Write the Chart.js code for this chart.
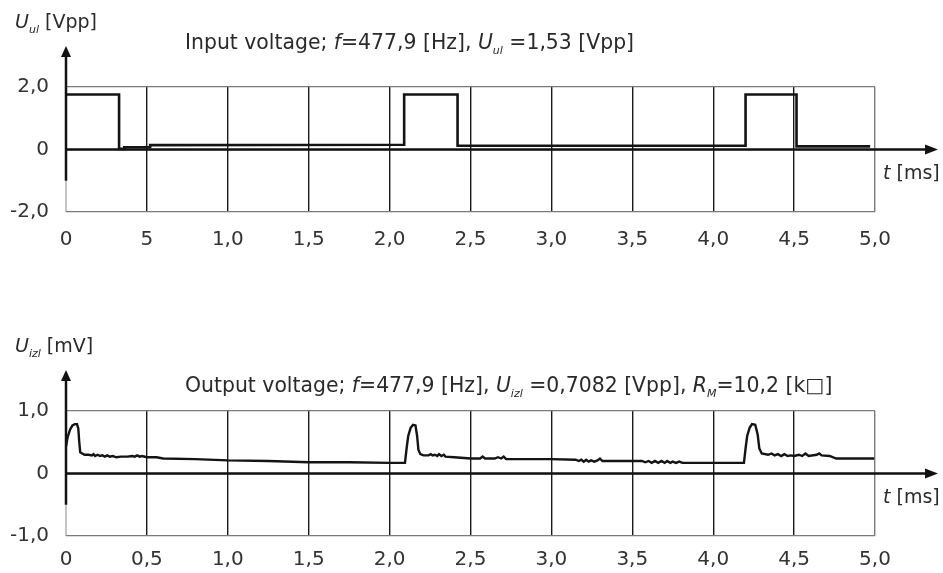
<!DOCTYPE html>
<html>
<head>
<meta charset="utf-8">
<script src="https://cdn.jsdelivr.net/npm/chart.js@4.4.1/dist/chart.umd.min.js"></script>
<style>
  html, body { margin: 0; padding: 0; background: #fff; }
  #page { position: relative; width: 943px; height: 573px; overflow: hidden;
          font-family: "DejaVu Sans", sans-serif; color: #2a2a2a; }
  .box { position: absolute; left: 0; width: 943px; height: 286px; }
  .txt { position: absolute; white-space: nowrap; line-height: 1; font-size: 20.4px; }
  .txt i { font-style: italic; }
  .txt sub { font-size: 11px; font-style: italic; vertical-align: -5px; line-height: 0; }
</style>
</head>
<body>
<div id="page">
  <div class="box" style="top:0"><canvas id="chart-in"></canvas></div>
  <div class="box" style="top:287px"><canvas id="chart-out"></canvas></div>

  <div class="txt" style="left:15px; top:12px; font-size:19px"><i>U</i><sub>ul</sub> [Vpp]</div>
  <div class="txt" style="left:185px; top:32px">Input voltage; <i>f</i>=477,9 [Hz], <i>U</i><sub>ul</sub> =1,53 [Vpp]</div>
  <div class="txt" style="left:883px; top:163px; font-size:19px"><i>t</i> [ms]</div>

  <div class="txt" style="left:15px; top:336px; font-size:19px"><i>U</i><sub>izl</sub> [mV]</div>
  <div class="txt" style="left:185px; top:375px">Output voltage; <i>f</i>=477,9 [Hz], <i>U</i><sub>izl</sub> =0,7082 [Vpp], <i>R</i><sub>M</sub>=10,2 [k□]</div>
  <div class="txt" style="left:883px; top:487px; font-size:19px"><i>t</i> [ms]</div>
</div>

<script>
// Подписи осей
const inXLabels  = ['0', '5', '1,0', '1,5', '2,0', '2,5', '3,0', '3,5', '4,0', '4,5', '5,0'];
const outXLabels = ['0', '0,5', '1,0', '1,5', '2,0', '2,5', '3,0', '3,5', '4,0', '4,5', '5,0'];
const inYLabels  = ['-2,0', '0', '2,0'];
const outYLabels = ['-1,0', '0', '1,0'];

// Входное напряжение (прямоугольные импульсы), t [ms] / U [Vpp]
const inT = [0, 0.328, 0.328, 0.36, 0.36, 0.52, 0.52, 2.09, 2.09, 2.42, 2.42, 4.20, 4.20, 4.515, 4.515, 4.97];
const inV = [1.76, 1.76, 0.02, 0.02, 0.07, 0.07, 0.14, 0.15, 1.76, 1.76, 0.12, 0.12, 1.76, 1.76, 0.10, 0.10];

// Выходное напряжение, t [ms] / U [mV]
const outT = [
  0.000, 0.010, 0.025, 0.040, 0.055, 0.068, 0.076, 0.082, 0.088, 0.100,
  0.115, 0.140, 0.160, 0.170, 0.180, 0.195, 0.210, 0.225, 0.240, 0.255,
  0.270, 0.290, 0.310, 0.340, 0.380, 0.410, 0.425, 0.440, 0.455, 0.470,
  0.500, 0.560, 0.600, 0.800, 1.000, 1.250, 1.500, 1.750, 2.000, 2.095,
  2.105, 2.115, 2.130, 2.145, 2.160, 2.170, 2.178, 2.190, 2.210, 2.240,
  2.255, 2.265, 2.280, 2.295, 2.305, 2.320, 2.335, 2.345, 2.400, 2.500,
  2.560, 2.575, 2.590, 2.650, 2.670, 2.690, 2.705, 2.720, 2.850, 3.000,
  3.150, 3.170, 3.185, 3.200, 3.215, 3.230, 3.245, 3.265, 3.285, 3.300,
  3.315, 3.400, 3.500, 3.560, 3.580, 3.600, 3.620, 3.640, 3.660, 3.680,
  3.700, 3.715, 3.735, 3.750, 3.770, 3.790, 3.810, 3.900, 4.000, 4.190,
  4.200, 4.210, 4.225, 4.240, 4.260, 4.275, 4.285, 4.300, 4.340, 4.360,
  4.380, 4.400, 4.420, 4.440, 4.460, 4.480, 4.500, 4.530, 4.550, 4.570,
  4.590, 4.640, 4.655, 4.670, 4.720, 4.760, 4.995
];
const outV = [
  0.43, 0.58, 0.70, 0.77, 0.79, 0.79, 0.72, 0.50, 0.34, 0.32,
  0.30, 0.30, 0.29, 0.31, 0.28, 0.30, 0.28, 0.29, 0.27, 0.29,
  0.27, 0.28, 0.26, 0.27, 0.27, 0.28, 0.27, 0.29, 0.27, 0.28,
  0.26, 0.26, 0.24, 0.23, 0.21, 0.20, 0.18, 0.18, 0.17, 0.17,
  0.40, 0.60, 0.73, 0.78, 0.77, 0.60, 0.38, 0.31, 0.29, 0.29,
  0.31, 0.29, 0.30, 0.28, 0.31, 0.28, 0.30, 0.27, 0.26, 0.24,
  0.24, 0.27, 0.24, 0.24, 0.26, 0.24, 0.27, 0.23, 0.23, 0.23,
  0.22, 0.20, 0.22, 0.19, 0.22, 0.19, 0.21, 0.19, 0.21, 0.24,
  0.20, 0.20, 0.20, 0.20, 0.18, 0.20, 0.17, 0.20, 0.17, 0.20,
  0.17, 0.20, 0.17, 0.19, 0.17, 0.19, 0.17, 0.17, 0.17, 0.17,
  0.40, 0.60, 0.73, 0.79, 0.78, 0.62, 0.40, 0.32, 0.30, 0.32,
  0.29, 0.31, 0.28, 0.31, 0.28, 0.29, 0.28, 0.30, 0.28, 0.32,
  0.28, 0.30, 0.32, 0.29, 0.28, 0.24, 0.24
];

const FONT = '"DejaVu Sans", sans-serif';

// Оси со стрелками: толстая ось Y до thickTo, ниже — тонкая серая
const axisArrows = {
  id: 'axisArrows',
  beforeDatasetsDraw(chart, args, opts) {
    const { ctx, chartArea: a, scales: { x, y } } = chart;
    const x0 = x.getPixelForValue(0);
    const y0 = y.getPixelForValue(0);
    const yThick = y.getPixelForValue(opts.thickTo);
    ctx.save();
    ctx.lineCap = 'butt';
    // нижняя тонкая часть оси Y
    ctx.strokeStyle = '#8a8a8a';
    ctx.lineWidth = 1;
    ctx.beginPath(); ctx.moveTo(x0, yThick); ctx.lineTo(x0, a.bottom); ctx.stroke();
    // толстая часть оси Y
    ctx.strokeStyle = '#111';
    ctx.fillStyle = '#111';
    ctx.lineWidth = 2.5;
    ctx.beginPath(); ctx.moveTo(x0, a.top - 32); ctx.lineTo(x0, yThick); ctx.stroke();
    ctx.beginPath();
    ctx.moveTo(x0, a.top - 41); ctx.lineTo(x0 - 5, a.top - 30); ctx.lineTo(x0 + 5, a.top - 30);
    ctx.closePath(); ctx.fill();
    // ось X
    ctx.beginPath(); ctx.moveTo(x0, y0); ctx.lineTo(a.right + 52, y0); ctx.stroke();
    ctx.beginPath();
    ctx.moveTo(a.right + 63, y0); ctx.lineTo(a.right + 50, y0 - 5); ctx.lineTo(a.right + 50, y0 + 5);
    ctx.closePath(); ctx.fill();
    ctx.restore();
  }
};

function makeChart(id, tArr, vArr, o) {
  return new Chart(document.getElementById(id), {
    type: 'line',
    data: {
      datasets: [{
        data: tArr.map((t, i) => ({ x: t, y: vArr[i] })),
        borderColor: '#141414',
        borderWidth: o.lineWidth,
        pointRadius: 0,
        tension: 0,
        fill: false
      }]
    },
    options: {
      responsive: true,
      maintainAspectRatio: false,
      animation: false,
      events: [],
      layout: { padding: { top: o.padTop, right: 68, left: 0, bottom: 0 } },
      plugins: {
        legend: { display: false },
        tooltip: { enabled: false },
        axisArrows: { thickTo: o.thickTo }
      },
      scales: {
        x: {
          type: 'linear', min: 0, max: 5,
          afterFit: s => { s.height = o.xHeight; },
          ticks: {
            stepSize: 0.5, padding: o.xPad, color: '#333', maxRotation: 0,
            font: { family: FONT, size: 20 },
            callback: (v, i) => o.xLabels[i]
          },
          grid: {
            drawTicks: false, lineWidth: 1.4,
            color: c => c.tick.value === 0 ? 'rgba(0,0,0,0)' : (c.tick.value === 5 ? '#7a7a7a' : '#1a1a1a')
          },
          border: { display: false }
        },
        y: {
          type: 'linear', min: -o.yMax, max: o.yMax,
          afterFit: s => { s.width = 66; },
          ticks: {
            stepSize: o.yMax, padding: 17, color: '#333',
            font: { family: FONT, size: 20 },
            callback: (v, i) => o.yLabels[i]
          },
          grid: { drawTicks: false, lineWidth: 1.2, color: '#7a7a7a' },
          border: { display: false }
        }
      }
    },
    plugins: [axisArrows]
  });
}

makeChart('chart-in', inT, inV, {
  yMax: 2, xLabels: inXLabels, yLabels: inYLabels,
  padTop: 87, xHeight: 74, xPad: 16, thickTo: -1, lineWidth: 2.6
});
makeChart('chart-out', outT, outV, {
  yMax: 1, xLabels: outXLabels, yLabels: outYLabels,
  padTop: 124, xHeight: 37, xPad: 12, thickTo: -0.5, lineWidth: 2.4
});
</script>
</body>
</html>
